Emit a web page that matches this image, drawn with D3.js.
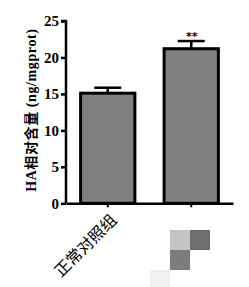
<!DOCTYPE html>
<html>
<head>
<meta charset="utf-8">
<script src="https://cdn.jsdelivr.net/npm/d3@7"></script>
<style>
  body { margin: 0; background: #fff; }
  svg { display: block; }
</style>
</head>
<body>
<div id="chart"></div>
<script>
const categories = ["正常对照组", ""];
const means = [15.1, 21.2];
const errors = [0.75, 1.05];
const marks = ["", "**"];
const yTicks = [0, 5, 10, 15, 20, 25];
const yTitle = "HA相对含量 (ng/mgprot)";

const svgWidth = 249;
const svgHeight = 287;
const margin = { top: 21, right: 16, bottom: 84, left: 66 };

const svg = d3.select("#chart")
  .append("svg")
  .attr("width", svgWidth)
  .attr("height", svgHeight);

const x = d3.scaleBand()
  .domain(d3.range(categories.length))
  .range([margin.left, svgWidth - margin.right])
  .paddingInner(0.35)
  .paddingOuter(0.175);

const y = d3.scaleLinear()
  .domain([0, 25])
  .range([svgHeight - margin.bottom + 0.3, margin.top]);

// bars
svg.append("g")
  .selectAll("rect")
  .data(means)
  .join("rect")
  .attr("x", (d, i) => x(i))
  .attr("y", d => y(d))
  .attr("width", x.bandwidth())
  .attr("height", d => y(0) - y(d))
  .attr("fill", "#808080")
  .attr("stroke", "#000")
  .attr("stroke-width", 3);

// error bars
const err = svg.append("g").attr("stroke", "#000").attr("stroke-width", 2.5);
means.forEach((m, i) => {
  const cx = x(i) + x.bandwidth() / 2;
  err.append("line")
    .attr("x1", cx).attr("x2", cx)
    .attr("y1", y(m)).attr("y2", y(m + errors[i]));
  err.append("line")
    .attr("x1", cx - 13.5).attr("x2", cx + 13.5)
    .attr("y1", y(m + errors[i])).attr("y2", y(m + errors[i]));
});

// significance
svg.append("g")
  .selectAll("text")
  .data(marks)
  .join("text")
  .attr("x", (d, i) => x(i) + x.bandwidth() / 2 + 0.5)
  .attr("y", (d, i) => y(means[i] + errors[i]) - 1)
  .attr("text-anchor", "middle")
  .attr("fill", "#000")
  .attr("font-family", "DejaVu Sans, sans-serif")
  .attr("font-weight", "bold")
  .attr("font-size", "11px")
  .text(d => d);

// y axis
svg.append("g")
  .attr("transform", `translate(${margin.left},0)`)
  .call(d3.axisLeft(y).tickValues(yTicks).tickSize(5).tickPadding(2))
  .call(g => g.select(".domain").attr("stroke-width", 2.5).attr("d", `M-5,${y(25)}H0V${y(0)}`))
  .call(g => g.selectAll(".tick line").attr("stroke-width", 2.5))
  .call(g => g.selectAll("text")
    .attr("font-family", "Liberation Serif, serif")
    .attr("font-weight", "bold")
    .attr("font-size", "15px")
    .attr("fill", "#000"));

// x axis
svg.append("g")
  .attr("transform", `translate(0,${y(0)})`)
  .call(d3.axisBottom(x).tickSize(4).tickSizeOuter(0).tickFormat(i => categories[i]))
  .call(g => g.select(".domain").attr("stroke-width", 2.5))
  .call(g => g.selectAll(".tick line").attr("stroke-width", 2))
  .call(g => g.selectAll("text")
    .attr("x", 0)
    .attr("y", 0)
    .attr("font-family", "Noto Sans CJK SC, sans-serif")
    .attr("font-size", "16px")
    .attr("fill", "#000")
    .attr("text-anchor", "end")
    .attr("dy", "0.35em")
    .attr("transform", "translate(6,14) rotate(-45)"));

// y title
svg.append("text")
  .attr("transform", `translate(36,${(y(0) + y(25)) / 2 - 2}) rotate(-90)`)
  .attr("text-anchor", "middle")
  .attr("font-family", "Liberation Serif, Noto Sans CJK SC, serif")
  .attr("font-weight", "bold")
  .attr("font-size", "14px")
  .attr("letter-spacing", "0.6px")
  .text(yTitle);

// mosaic covering the second label
const mosaic = [
  { x: 170, y: 230, c: "#c4c4c4" },
  { x: 190, y: 230, c: "#6e6e6e" },
  { x: 170, y: 250, c: "#7c7c7c" },
  { x: 150, y: 270, c: "#f0f0f0" }
];
svg.append("g")
  .selectAll("rect")
  .data(mosaic)
  .join("rect")
  .attr("x", d => d.x).attr("y", d => d.y)
  .attr("width", 20).attr("height", 20)
  .attr("fill", d => d.c);
</script>
</body>
</html>
